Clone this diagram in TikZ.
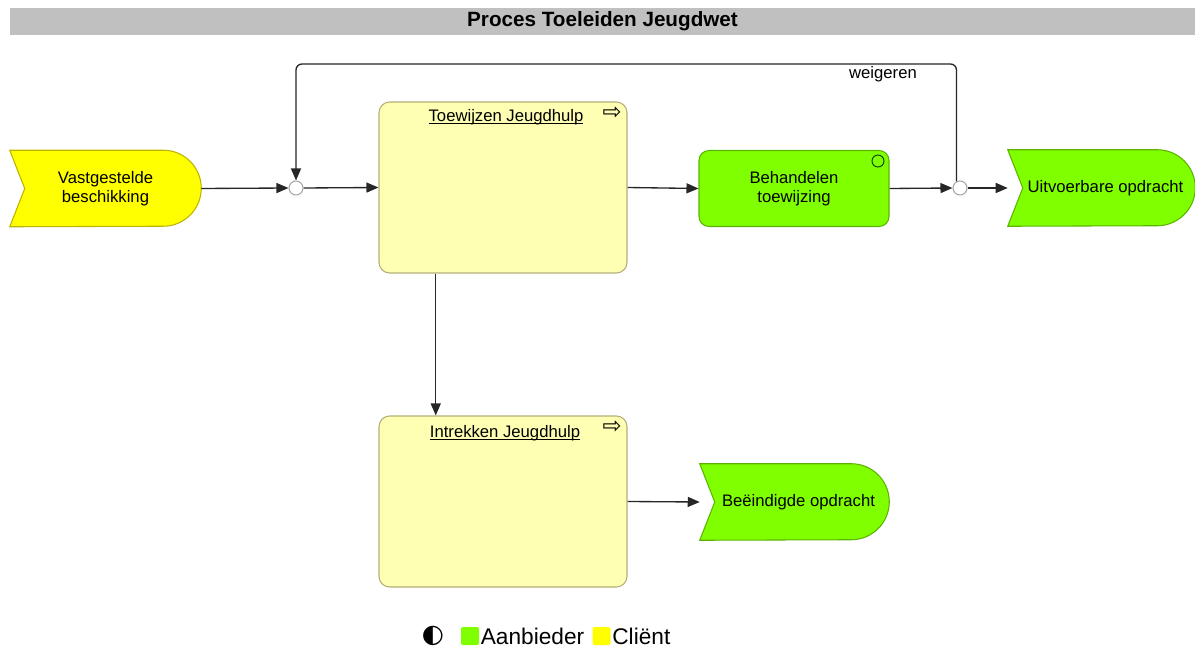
\documentclass[tikz,border=0pt]{standalone}
\usepackage{fontspec}
\setmainfont{Liberation Sans}
\newfontfamily\symfont{DejaVu Sans}
\usetikzlibrary{shapes,arrows.meta,calc,backgrounds}
\definecolor{titlegray}{HTML}{C0C0C0}
\definecolor{clientyellow}{HTML}{FFFF00}
\definecolor{clientedge}{HTML}{BDB400}
\definecolor{provgreen}{HTML}{80FF00}
\definecolor{provedge}{HTML}{5AB400}
\definecolor{procfill}{HTML}{FFFFB3}
\definecolor{procedge}{HTML}{B4AF78}
\tikzstyle{conn} = [line width=1pt,black!85,-{Triangle[length=9pt,width=7.5pt]}]
\tikzstyle{diagtext} = [font=\fontsize{12.5}{14.5}\selectfont]
\tikzstyle{event} = [diagtext,align=center,minimum height=57pt,inner sep=0pt]
\tikzstyle{procbox} = [draw=procedge,fill=procfill,rounded corners=8pt,line width=0.8pt,
    minimum width=186pt,minimum height=128.25pt]
\tikzstyle{junction} = [circle,draw=black!35,fill=white,line width=0.8pt,minimum size=10.5pt,inner sep=0pt]
\tikzstyle{legendbox} = [rounded corners=1.5pt,minimum size=13.5pt,inner sep=0pt]
\tikzstyle{legendtext} = [font=\fontsize{17}{20}\selectfont,inner sep=1pt,anchor=west]
\newcommand{\procname}[1]{\underline{\smash{#1}}}
% event shape: notch on the left, half circle on the right
\newcommand{\eventshape}[3]{%
    \begin{pgfonlayer}{background}
    \filldraw[fill=#2,draw=#3,line width=0.8pt] (#1.north west) -- ([xshift=-28.5pt]#1.north east)
        arc[start angle=90,end angle=-90,radius=28.5pt] -- (#1.south west)
        -- ([xshift=11.25pt]#1.west) -- cycle;
    \end{pgfonlayer}}

\begin{document}
\begin{tikzpicture}[x=0.75pt,y=-0.75pt]
    \useasboundingbox (0,0) rectangle (1195,648);
    \node[fill=titlegray,minimum width=888.75pt,minimum height=20.25pt,inner sep=0pt,
        font=\bfseries\fontsize{15.5}{18}\selectfont] (title) at (602.5,21.5) {Proces Toeleiden Jeugdwet};

    % events
    \node[event,minimum width=143.25pt] (vast) at (105.5,188.5) {Vastgestelde\\beschikking};
    \eventshape{vast}{clientyellow}{clientedge}
    \node[event,minimum width=140.25pt] (uitv) at (1101.5,188) {\hspace{6pt}Uitvoerbare opdracht};
    \eventshape{uitv}{provgreen}{provedge}
    \node[event,minimum width=141.75pt] (beei) at (794.5,502) {\hspace{6pt}Beëindigde opdracht};
    \eventshape{beei}{provgreen}{provedge}

    % processes
    \node[procbox] (toew) at (503,187.5) {};
    \node[diagtext] (toewtitle) at (506,123) {\procname{Toewijzen Jeugdhulp}};
    \node[font=\symfont\fontsize{17}{17}\selectfont,inner sep=0pt] (toewsym) at (612,113) {⇨};
    \node[procbox] (intr) at (503,501.5) {};
    \node[diagtext] (intrtitle) at (505,439) {\procname{Intrekken Jeugdhulp}};
    \node[font=\symfont\fontsize{17}{17}\selectfont,inner sep=0pt] (intrsym) at (612,427) {⇨};

    % function
    \node[diagtext,draw=provedge,fill=provgreen,rounded corners=7.5pt,line width=0.8pt,align=center,
        minimum width=142.5pt,minimum height=57pt] (behan) at (794,188.5) {Behandelen\\toewijzing};
    \node[circle,draw=black!75!green,line width=0.7pt,minimum size=9pt,inner sep=0pt] (behanmark) at (878,161) {};

    % junctions
    \node[junction] (j1) at (296,188) {};
    \node[junction] (j2) at (960,188) {};

    % connectors
    \draw[conn] (vast.east) -- (j1.west);
    \draw[conn] (j1.east) -- (toew.west);
    \draw[conn] (toew.east) -- (behan.west);
    \draw[conn] (behan.east) -- (j2.west);
    \draw[conn] (j2.east) -- (uitv.west);
    \draw[conn,rounded corners=4.5pt] (j2.118) -- (j2.118 |- 0,64) -- (j1.north |- 0,64) -- (j1.north);
    \node[diagtext] (weig) at (883,74) {weigeren};
    \draw[conn] ($(toew.south west)!0.23!(toew.south east)$) -- ($(intr.north west)!0.23!(intr.north east)$);
    \draw[conn] (intr.east) -- (beei.west);

    % legend
    \node[font=\symfont\fontsize{19}{19}\selectfont,inner sep=0pt] (legsym) at (433,636) {◐};
    \node[legendbox,fill=provgreen] (aanbox) at (470,636) {};
    \node[legendtext] (aantext) at (aanbox.east) {Aanbieder};
    \node[legendbox,fill=clientyellow] (clibox) at (601.5,636) {};
    \node[legendtext] (clitext) at (clibox.east) {Cliënt};
\end{tikzpicture}
\end{document}
